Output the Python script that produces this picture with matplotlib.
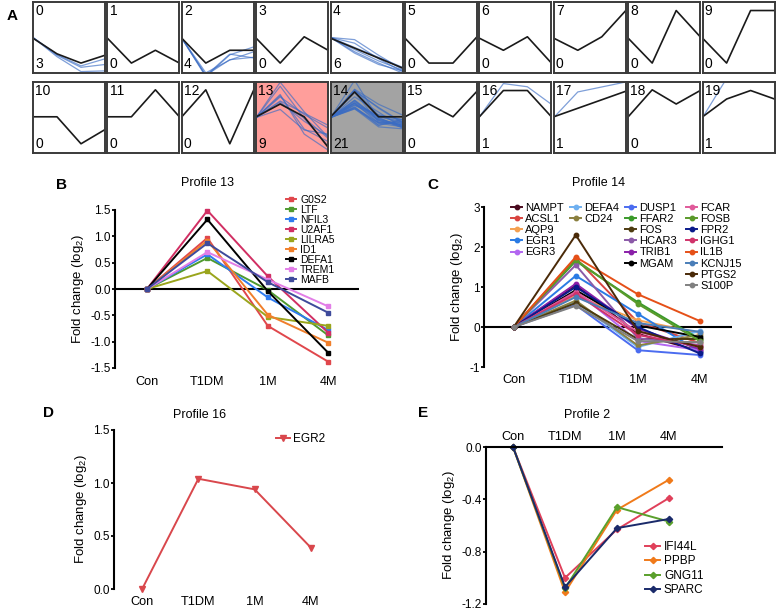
import matplotlib
matplotlib.use("Agg")
import matplotlib.pyplot as plt
from matplotlib.legend import Legend

plt.rcParams["font.family"] = ["Liberation Sans", "DejaVu Sans"]
plt.rcParams["mathtext.default"] = "regular"
plt.rcParams["axes.unicode_minus"] = False

W, H = 777, 611

# ---- data ----
timepoints = ["Con", "T1DM", "1M", "4M"]

# panel A: STEM model profiles (fraction of box height) and gene counts
model_profiles = [
    [0.49, 0.27, 0.14, 0.25], [0.49, 0.14, 0.32, 0.14], [0.49, 0.14, 0.32, 0.32],
    [0.49, 0.14, 0.51, 0.32], [0.49, 0.35, 0.21, 0.07], [0.49, 0.14, 0.14, 0.51],
    [0.49, 0.32, 0.51, 0.14], [0.49, 0.32, 0.51, 0.88], [0.49, 0.14, 0.88, 0.51],
    [0.49, 0.14, 0.88, 0.88], [0.51, 0.51, 0.13, 0.33], [0.51, 0.51, 0.89, 0.51],
    [0.51, 0.89, 0.13, 0.89], [0.51, 0.69, 0.51, 0.08], [0.51, 0.86, 0.51, 0.51],
    [0.51, 0.69, 0.51, 0.87], [0.51, 0.88, 0.88, 0.51], [0.51, 0.63, 0.75, 0.87],
    [0.51, 0.89, 0.69, 0.88], [0.51, 0.76, 0.88, 0.76],
]
gene_counts = [3, 0, 4, 0, 6, 0, 0, 0, 0, 0, 0, 0, 0, 9, 21, 0, 1, 1, 0, 1]

# gene traces for profiles not detailed below (fraction of box height)
profile0_genes = [[0.5, 0.25, 0.08, 0.12], [0.5, 0.23, 0.02, 0.03], [0.5, 0.26, 0.10, 0.20]]
profile4_genes = [[0.5, 0.47, 0.25, 0.05], [0.5, 0.42, 0.20, 0.02], [0.5, 0.33, 0.17, 0.04],
                  [0.5, 0.30, 0.14, 0.00], [0.5, 0.36, 0.22, 0.08], [0.5, 0.28, 0.12, 0.03]]
profile17_genes = [[0.5, 0.86, 0.93, 1.0]]
profile19_genes = [[0.5, 1.05, 1.1, 1.05]]

# panel B: profile 13
b_genes = ["G0S2", "LTF", "NFIL3", "U2AF1", "LILRA5", "ID1", "DEFA1", "TREM1", "MAFB"]
b_values = [
    [0, 0.97, -0.70, -1.38],
    [0, 0.59, -0.02, -0.88],
    [0, 0.66, -0.16, -0.78],
    [0, 1.49, 0.24, -0.83],
    [0, 0.34, -0.53, -0.70],
    [0, 0.92, -0.49, -1.02],
    [0, 1.32, -0.04, -1.21],
    [0, 0.70, 0.18, -0.33],
    [0, 0.87, 0.13, -0.45],
]
b_colors = ["#e0474c", "#4f9a2f", "#2f7bef", "#d12f63", "#9aa51c", "#f07f2b",
            "#000000", "#e27ee7", "#3e4a9b"]

# panel C: profile 14
c_genes = ["NAMPT", "ACSL1", "AQP9", "EGR1", "EGR3", "DEFA4", "CD24",
           "DUSP1", "FFAR2", "FOS", "HCAR3", "TRIB1", "MGAM",
           "FCAR", "FOSB", "FPR2", "IGHG1", "IL1B", "KCNJ15", "PTGS2", "S100P"]
c_values = [
    [0, 1.05, -0.17, -0.60],
    [0, 1.72, 0.12, -0.40],
    [0, 0.78, 0.17, -0.15],
    [0, 1.28, 0.33, -0.62],
    [0, 0.90, -0.35, -0.58],
    [0, 0.62, -0.50, -0.10],
    [0, 0.66, -0.46, -0.20],
    [0, 0.55, -0.58, -0.70],
    [0, 1.65, 0.62, -0.30],
    [0, 0.60, -0.30, -0.30],
    [0, 1.55, -0.28, -0.45],
    [0, 1.08, -0.04, -0.55],
    [0, 0.92, 0.04, -0.25],
    [0, 0.88, -0.12, -0.50],
    [0, 1.68, 0.58, -0.35],
    [0, 1.00, 0.00, -0.66],
    [0, 0.83, -0.20, -0.48],
    [0, 1.75, 0.82, 0.15],
    [0, 0.75, 0.10, -0.12],
    [0, 2.30, -0.10, -0.50],
    [0, 0.53, -0.35, -0.38],
]
c_colors = ["#4a0a1e", "#d9443f", "#f4a050", "#2a7be4", "#b266f0", "#6fb0f0", "#8b8040",
            "#4b6cf0", "#3a9a2a", "#4d3b10", "#8b5aa8", "#8a1fa8", "#000000",
            "#e05a9a", "#5a9a2a", "#0a1a8a", "#d0336a", "#e55018", "#4a7eb8", "#4a2a08", "#808080"]
c_columns = [5, 2, 6, 8]

# panel D: profile 16
d_genes = ["EGR2"]
d_values = [[0, 1.04, 0.94, 0.39]]
d_colors = ["#d9474c"]

# panel E: profile 2
e_genes = ["IFI44L", "PPBP", "GNG11", "SPARC"]
e_values = [
    [0, -1.00, -0.63, -0.39],
    [0, -1.11, -0.48, -0.25],
    [0, -1.08, -0.46, -0.57],
    [0, -1.07, -0.62, -0.55],
]
e_colors = ["#e0405a", "#f07a1a", "#5aa02c", "#1a2a6a"]

fig = plt.figure(figsize=(W / 100, H / 100), dpi=100)


def px_axes(left, top, right, bottom):
    return fig.add_axes([left / W, 1 - bottom / H, (right - left) / W, (bottom - top) / H])


def px_text(x, y, s, **kw):
    fig.text(x / W, 1 - y / H, s, **kw)


# ---- panel A ----
px_text(12, 16, "A", fontsize=11, fontweight="bold", ha="center", va="center")
gene_traces = {
    0: profile0_genes,
    2: [[0.49 + v / 2.05 for v in row] for row in e_values],
    4: profile4_genes,
    13: [[0.5 + v / 3.0 for v in row] for row in b_values],
    14: [[0.5 + v / 4.4 for v in row] for row in c_values],
    16: [[0.51 + v * 0.45 for v in row] for row in d_values],
    17: profile17_genes,
    19: profile19_genes,
}
face = {13: "#ff9e9b", 14: "#a3a3a3"}
for k in range(20):
    row, col = divmod(k, 10)
    left = 33 + col * 74.4
    top = 2 + row * 80
    ax = px_axes(left, top, left + 72, top + 71)
    ax.set_facecolor(face.get(k, "white"))
    ax.set_xlim(0, 3)
    ax.set_ylim(0, 1)
    ax.set_xticks([])
    ax.set_yticks([])
    for s in ax.spines.values():
        s.set_linewidth(1.4)
        s.set_color("#3a3a3a")
    for trace in gene_traces.get(k, []):
        ax.plot(range(4), trace, color="#3a6cc4", lw=0.9, alpha=0.65)
    ax.plot(range(4), model_profiles[k], color="#1a1a1a", lw=1.2)
    ax.text(0.03, 0.97, str(k), transform=ax.transAxes, fontsize=10, va="top", ha="left")
    ax.text(0.03, 0.03, str(gene_counts[k]), transform=ax.transAxes, fontsize=10,
            va="bottom", ha="left")


def style_profile(ax, xlim, ylim, yticks, fmt, top_axis=False, zero_line=True, pad=5):
    ax.set_xlim(*xlim)
    ax.set_ylim(*ylim)
    ax.spines["right"].set_visible(False)
    ax.spines["left"].set_linewidth(1.5)
    if top_axis:
        ax.spines["bottom"].set_visible(False)
        ax.spines["top"].set_linewidth(1.5)
        ax.xaxis.tick_top()
    else:
        ax.spines["top"].set_visible(False)
        ax.spines["bottom"].set_visible(False)
        if zero_line:
            ax.axhline(0, color="black", lw=1.5, zorder=1)
    ax.set_xticks(range(4))
    ax.set_xticklabels(timepoints, fontsize=9.2)
    ax.tick_params(axis="x", length=0, pad=pad)
    ax.set_yticks(yticks)
    ax.set_yticklabels([fmt % v for v in yticks], fontsize=8.5)
    ax.tick_params(axis="y", length=2.5, width=1.3, pad=0.5)
    ax.set_ylabel("Fold change (log$_2$)", fontsize=9.5, labelpad=3)
    ax.set_facecolor("none")


def legend_at(ax, handles, x, y, **kw):
    leg = Legend(ax, handles, [h.get_label() for h in handles], loc="upper left",
                 bbox_to_anchor=(x / W, 1 - y / H), bbox_transform=fig.transFigure,
                 frameon=False, borderpad=0, borderaxespad=0, **kw)
    ax.add_artist(leg)


# ---- panel B ----
px_text(61, 185, "B", fontsize=11, fontweight="bold", ha="center", va="center")
px_text(207, 183, "Profile 13", fontsize=9, ha="center", va="center")
axb = px_axes(115, 210, 359, 368)
hb = []
for name, vals, c in zip(b_genes, b_values, b_colors):
    h, = axb.plot(range(4), vals, color=c, lw=1.4, marker="s", ms=3.5, label=name, clip_on=False)
    hb.append(h)
style_profile(axb, (-0.53, 3.51), (-1.5, 1.5), [-1.5, -1.0, -0.5, 0.0, 0.5, 1.0, 1.5], "%.1f", pad=6)
legend_at(axb, hb, 286, 195, fontsize=7.5, labelspacing=0.0, handlelength=1.0, handletextpad=0.35)

# ---- panel C ----
px_text(433, 185, "C", fontsize=11, fontweight="bold", ha="center", va="center")
px_text(599, 183, "Profile 14", fontsize=9, ha="center", va="center")
axc = px_axes(484, 207, 732, 367)
hc = []
for name, vals, c in zip(c_genes, c_values, c_colors):
    h, = axc.plot(range(4), vals, color=c, lw=1.4, marker="o", ms=3.2, label=name, clip_on=False)
    hc.append(h)
style_profile(axc, (-0.48, 3.52), (-1, 3), [-1, 0, 1, 2, 3], "%d", pad=5)
col_x = [511, 570, 625, 686]
start = 0
for x, n in zip(col_x, c_columns):
    legend_at(axc, hc[start:start + n], x, 203, fontsize=8, labelspacing=0.1,
              handlelength=1.0, handletextpad=0.3)
    start += n

# ---- panel D ----
px_text(48, 413, "D", fontsize=11, fontweight="bold", ha="center", va="center")
px_text(200, 415, "Profile 16", fontsize=9, ha="center", va="center")
axd = px_axes(114, 430, 339, 589)
hd = []
for name, vals, c in zip(d_genes, d_values, d_colors):
    h, = axd.plot(range(4), vals, color=c, lw=1.4, marker="v", ms=4, label=name, clip_on=False)
    hd.append(h)
style_profile(axd, (-0.5, 3.5), (0, 1.5), [0.0, 0.5, 1.0, 1.5], "%.1f", zero_line=False, pad=5)
legend_at(axd, hd, 276, 433, fontsize=8.5, handlelength=1.2, handletextpad=0.2)

# ---- panel E ----
px_text(423, 413, "E", fontsize=11, fontweight="bold", ha="center", va="center")
px_text(587, 415, "Profile 2", fontsize=9, ha="center", va="center")
axe = px_axes(486, 447, 722, 604)
he = []
for name, vals, c in zip(e_genes, e_values, e_colors):
    h, = axe.plot(range(4), vals, color=c, lw=1.4, marker="D", ms=3.2, label=name, clip_on=False)
    he.append(h)
style_profile(axe, (-0.52, 4.02), (-1.2, 0), [0.0, -0.4, -0.8, -1.2], "%.1f", top_axis=True, pad=3)
legend_at(axe, he, 645, 541, fontsize=8.5, labelspacing=0.2, handlelength=1.3, handletextpad=0.3)

fig.savefig("out.png", dpi=100)
